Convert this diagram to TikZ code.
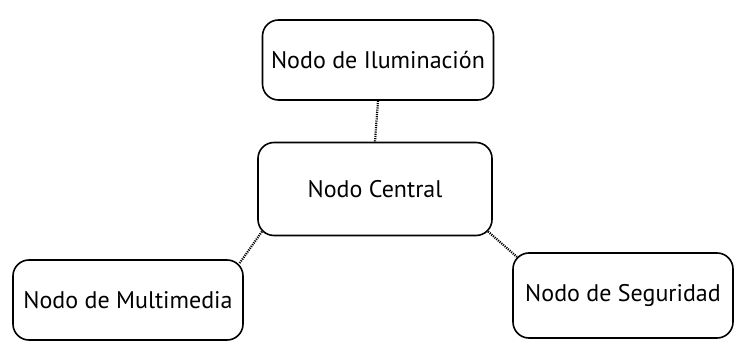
\documentclass[tikz,border=0pt]{standalone}
\usepackage{fontspec}
\setmainfont{PT Sans}
\usetikzlibrary{positioning}

\tikzset{
    nodo/.style={draw, line width=1.6pt, rounded corners=16pt, align=center,
        font=\fontsize{24}{28}\selectfont},
    enlace/.style={line width=2.2pt, dash pattern=on 1.1pt off 1.1pt}
}

\begin{document}
\begin{tikzpicture}[line cap=butt, line join=round, x=1pt, y=1pt]
                \useasboundingbox (0, 0) rectangle (736, 343);

                % Nodos
                \node[nodo, minimum width=231pt, minimum height=80pt] (ilum) at (378, 283) {Nodo de Iluminación};
                \node[nodo, minimum width=234pt, minimum height=93pt] (central) at (375, 154) {Nodo Central};
                \node[nodo, minimum width=230pt, minimum height=80pt] (multi) at (128, 43) {Nodo de Multimedia};
                \node[nodo, minimum width=220pt, minimum height=85pt] (seg) at (623, 47.5) {Nodo de Seguridad};

                % Enlaces
                \draw[enlace] (ilum.south) -- (central.north);
                \draw[enlace] ([shift={(4.7, 4.7)}]central.south west) -- ([shift={(-4.7, -4.7)}]multi.north east);
                \draw[enlace] ([shift={(-4.7, 4.7)}]central.south east) -- ([shift={(4.7, -4.7)}]seg.north west);
            \end{tikzpicture}
\end{document}
